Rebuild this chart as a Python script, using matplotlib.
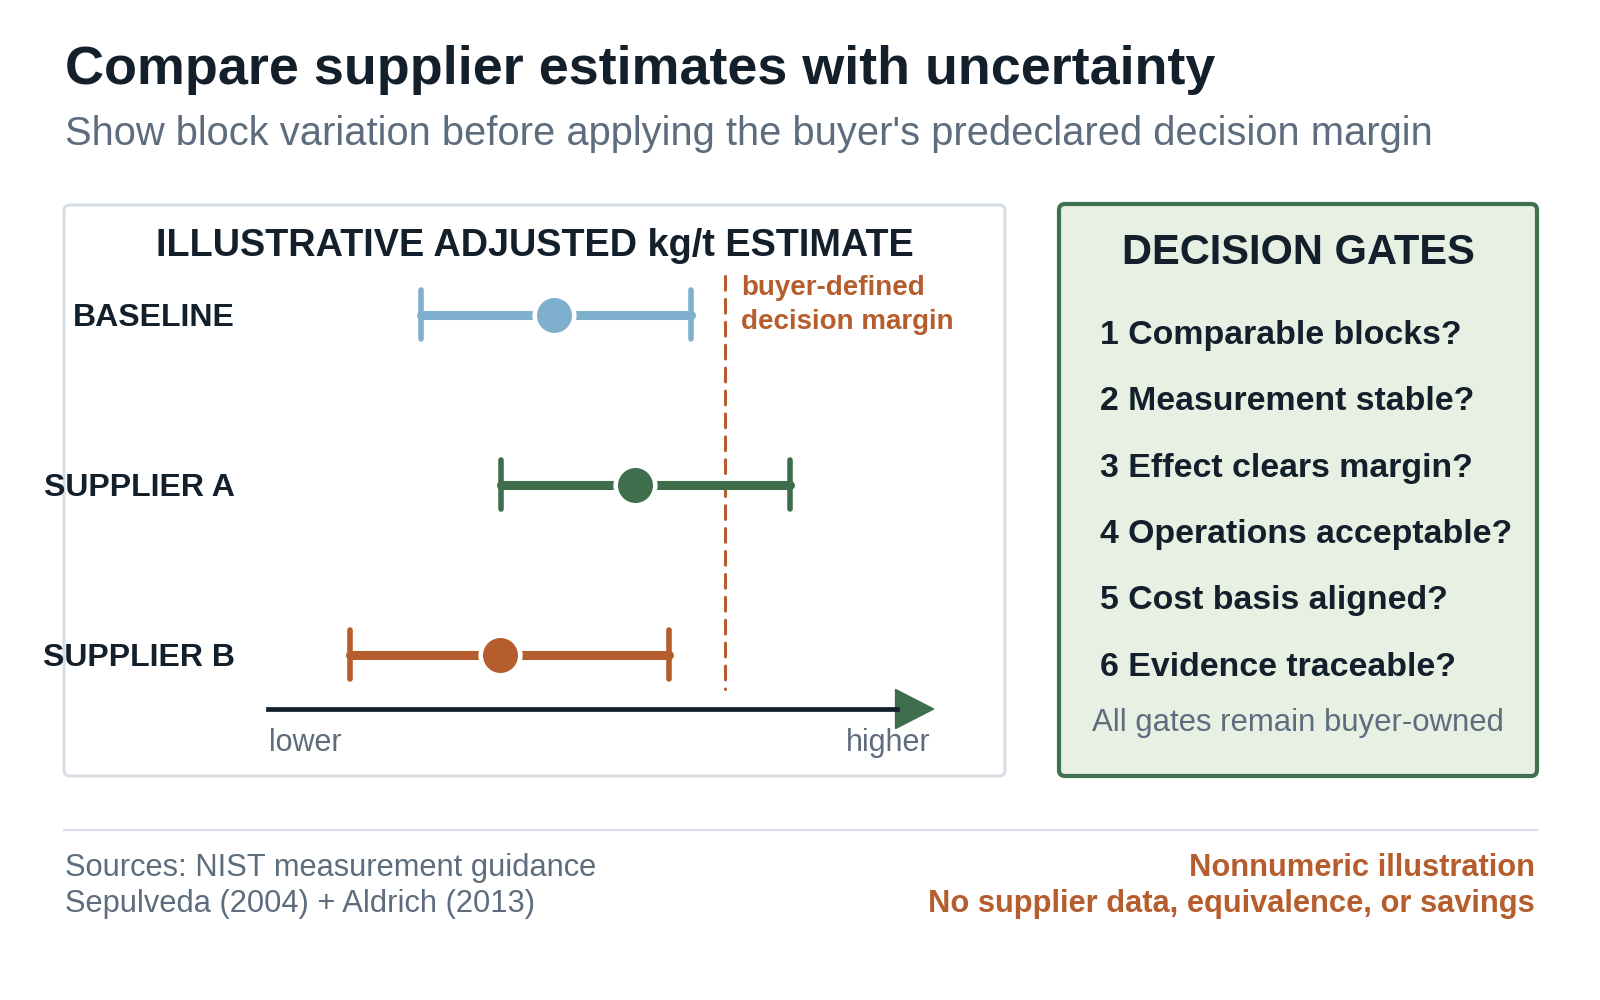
import matplotlib.pyplot as plt
from matplotlib.patches import FancyBboxPatch, Polygon

plt.rcParams['font.family'] = ['Liberation Sans', 'DejaVu Sans']

# illustrative (non-numeric) estimates on an abstract 0-100 scale
rows = ["BASELINE", "SUPPLIER A", "SUPPLIER B"]
low = [22.8, 34.8, 12.3]
mid = [42.8, 54.9, 34.7]
high = [63.3, 78.0, 60.0]
margin = 68.3
gates = ["1 Comparable blocks?", "2 Measurement stable?", "3 Effect clears margin?",
         "4 Operations acceptable?", "5 Cost basis aligned?", "6 Evidence traceable?"]

DARK = "#13202c"
GRAY = "#5d6d7e"
ORANGE = "#b55d2c"
GREEN = "#3e6e4b"
colors = ["#7eafcd", GREEN, ORANGE]

fig = plt.figure(figsize=(16, 10), dpi=100)
bg = fig.add_axes([0, 0, 1, 1])
bg.set_xlim(0, 1600)
bg.set_ylim(1000, 0)
bg.axis("off")

bg.text(65, 84, "Compare supplier estimates with uncertainty", fontsize=38.8,
        fontweight="bold", color=DARK, va="baseline")
bg.text(65, 145, "Show block variation before applying the buyer's predeclared decision margin",
        fontsize=28.7, color=GRAY, va="baseline")

bg.add_patch(FancyBboxPatch((64, 205), 941, 571, boxstyle="round,pad=0,rounding_size=6",
                            fc="white", ec="#d6dde5", lw=2.2))
bg.add_patch(FancyBboxPatch((1059, 204), 478, 572, boxstyle="round,pad=0,rounding_size=6",
                            fc="#e8efe3", ec="#3f7150", lw=3))

bg.text(535, 256, "ILLUSTRATIVE ADJUSTED kg/t ESTIMATE", fontsize=27.3, fontweight="bold",
        color=DARK, ha="center", va="baseline")
bg.text(741, 295, "buyer-defined", fontsize=20, fontweight="bold", color=ORANGE, va="baseline")
bg.text(741, 329, "decision margin", fontsize=20, fontweight="bold", color=ORANGE, va="baseline")
bg.text(269, 751, "lower", fontsize=22, color=GRAY, va="baseline")
bg.text(930, 751, "higher", fontsize=22, color=GRAY, va="baseline", ha="right")

bg.text(1298, 264, "DECISION GATES", fontsize=30, fontweight="bold", color=DARK,
        ha="center", va="baseline")
for i, g in enumerate(gates):
    bg.text(1100, 344 + 66.3 * i, g, fontsize=24.4, fontweight="bold", color=DARK, va="baseline")
bg.text(1298, 731, "All gates remain buyer-owned", fontsize=22.4, color=GRAY,
        ha="center", va="baseline")

bg.plot([64, 1537], [830, 830], color="#d7dee6", lw=1.6)
bg.text(65, 876, "Sources: NIST measurement guidance", fontsize=22.2, color=GRAY, va="baseline")
bg.text(65, 912, "Sepulveda (2004) + Aldrich (2013)", fontsize=22.2, color=GRAY, va="baseline")
bg.text(1535, 876, "Nonnumeric illustration", fontsize=22.2, fontweight="bold", color=ORANGE,
        va="baseline", ha="right")
bg.text(1535, 912, "No supplier data, equivalence, or savings", fontsize=22.2, fontweight="bold",
        color=ORANGE, va="baseline", ha="right")

# interval panel
ax = fig.add_axes([268 / 1600, 1 - 760 / 1000, 669 / 1600, 510 / 1000])
ax.set_xlim(0, 100)
ax.set_ylim(2.618, -0.382)
ax.patch.set_alpha(0)
for s in ax.spines.values():
    s.set_visible(False)
ax.set_xticks([])
ax.set_yticks(range(len(rows)), rows)
ax.tick_params(axis="y", length=0, pad=24)
for t in ax.get_yticklabels():
    t.set_fontsize(23)
    t.set_fontweight("bold")
    t.set_color(DARK)

cap = 0.144
for i in range(len(rows)):
    ax.hlines(i, low[i], high[i], color=colors[i], lw=6.5, capstyle="round", zorder=3)
    ax.vlines([low[i], high[i]], i - cap, i + cap, color=colors[i], lw=4,
              capstyle="round", zorder=3)
    ax.plot(mid[i], i, "o", ms=28.5, mfc=colors[i], mec="white", mew=3.3, zorder=4)

ax.plot([margin, margin], [-0.229, 2.2], color=ORANGE, lw=2.2, dashes=(4.5, 3),
        dash_capstyle="round", zorder=2)

axis_y = 2.318
ax.plot([0, 94], [axis_y, axis_y], color=DARK, lw=3.4, clip_on=False)
ax.add_patch(Polygon([(93.8, axis_y - 0.115), (99.5, axis_y), (93.8, axis_y + 0.115)],
                     closed=True, color=GREEN, clip_on=False))

fig.savefig("out.png", dpi=100)
